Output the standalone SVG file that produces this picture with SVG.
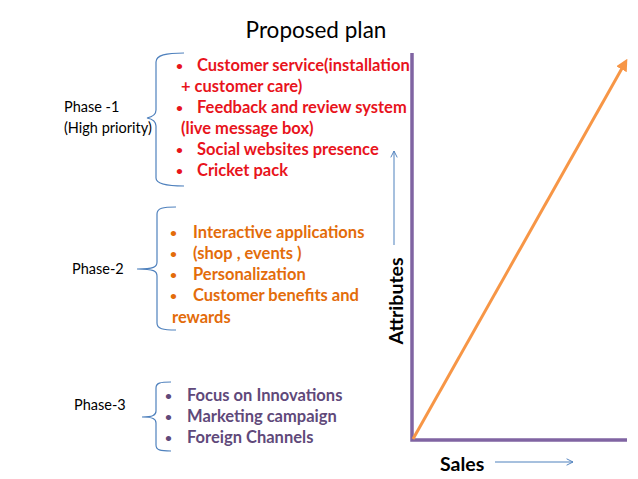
<svg xmlns="http://www.w3.org/2000/svg" width="638" height="479" viewBox="0 0 638 479">
<defs>
<style>
text{font-family:Lato,"Open Sans","Liberation Sans",sans-serif}
.title{font-size:22.5px;fill:#000}
.lbl{font-size:14.5px;fill:#000}
.b{font-size:16.5px;font-weight:bold}
.dot{font-size:12px}
.red{fill:#E8141C}
.org{fill:#E36C0A}
.pur{fill:#5F497A}
.brace{fill:none;stroke:#4F81BD;stroke-width:1.2}
.axis{stroke:#8064A2;stroke-width:3.5;fill:none}
.thin{stroke:#4F81BD;stroke-width:1;fill:none}
.ax{font-size:19.5px;font-weight:bold;fill:#000}
</style>
<marker id="oh" viewBox="0 0 10 10" refX="6" refY="5" markerWidth="4" markerHeight="4" orient="auto" markerUnits="strokeWidth">
<path d="M0,0 L10,5 L0,10 z" fill="#F79646"/>
</marker>
<marker id="open" viewBox="0 0 10 10" refX="9" refY="5" markerWidth="8" markerHeight="8" orient="auto" markerUnits="userSpaceOnUse">
<path d="M1,1 L9,5 L1,9" fill="none" stroke="#4F81BD" stroke-width="1.2"/>
</marker>
</defs>
<rect width="638" height="479" fill="#fff"/>
<text class="title" x="316" y="38" text-anchor="middle">Proposed plan</text>

<g id="phase1">
<text class="lbl" x="64" y="112">Phase -1</text>
<text class="lbl" x="64" y="133">(High priority)</text>
<path class="brace" d="M184,53 C166,53 156,55 156,62 L156,110 C156,115 152,117 147,118 C152,119 156,121 156,126 L156,178 C156,184 166,186 184,186"/>
<g class="b red">
<text class="dot" x="176" y="70">•</text><text x="197" y="71">Customer service(installation</text>
<text x="181" y="92">+ customer care)</text>
<text class="dot" x="176" y="112">•</text><text x="197" y="113">Feedback and review system</text>
<text x="181" y="134">(live message box)</text>
<text class="dot" x="176" y="154">•</text><text x="197" y="155">Social websites presence</text>
<text class="dot" x="176" y="175">•</text><text x="197" y="176">Cricket pack</text>
</g>
</g>

<g id="phase2">
<text class="lbl" x="72" y="274">Phase-2</text>
<path class="brace" d="M176,207 C163,207 157,208 157,214 L157,262 C157,267 154,269 137,269 M137,269 C154,269 157,271 157,276 L157,323 C157,329 163,330 176,330"/>
<g class="b org">
<text class="dot" x="170" y="237">•</text><text x="193" y="238">Interactive applications</text>
<text class="dot" x="170" y="258">•</text><text x="193" y="259">(shop , events )</text>
<text class="dot" x="170" y="279">•</text><text x="193" y="280">Personalization</text>
<text class="dot" x="170" y="300">•</text><text x="193" y="301">Customer benefits and</text>
<text x="172" y="323">rewards</text>
</g>
</g>

<g id="phase3">
<text class="lbl" x="74" y="410">Phase-3</text>
<path class="brace" d="M171,382 C160,382 156,383 156,388 L156,411 C156,415 153,417 142,417 M142,417 C153,417 156,419 156,423 L156,445 C156,450 160,451 171,451"/>
<g class="b pur">
<text class="dot" x="165" y="400">•</text><text x="187" y="401">Focus on Innovations</text>
<text class="dot" x="165" y="421">•</text><text x="187" y="422">Marketing campaign</text>
<text class="dot" x="165" y="442">•</text><text x="187" y="443">Foreign Channels</text>
</g>
</g>

<g id="chart">
<text class="ax" x="0" y="0" transform="translate(403,301) rotate(-90)" text-anchor="middle">Attributes</text>
<text class="ax" x="440" y="471">Sales</text>
</g>

<g id="connectors">
<path class="axis" d="M412,53 L412,440 L627,440"/>
<line x1="413" y1="439" x2="625" y2="63" stroke="#F79646" stroke-width="3" marker-end="url(#oh)"/>
<line class="thin" x1="394" y1="245" x2="394" y2="151" marker-end="url(#open)"/>
<line class="thin" x1="495" y1="462" x2="573" y2="462" marker-end="url(#open)"/>
</g>
</svg>
